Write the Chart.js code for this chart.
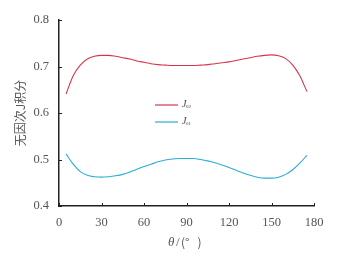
<!DOCTYPE html>
<html>
<head>
<meta charset="utf-8">
<script src="https://cdn.jsdelivr.net/npm/chart.js@4"></script>
<style>
  html, body { margin: 0; padding: 0; background: #fff; }
  #wrap { width: 343px; height: 260px; }
</style>
</head>
<body>
<div id="wrap"><canvas id="myChart" width="343" height="260"></canvas></div>
<script>
// theta in degrees
const angles = [5, 10, 15, 20, 25, 30, 35, 40, 45, 50, 55, 60, 65, 70, 75, 80, 85, 90,
    95, 100, 105, 110, 115, 120, 125, 130, 135, 140, 145, 150, 155, 160, 165, 170, 175];

// J02 (red)
const j02 = [0.641, 0.680, 0.703, 0.716, 0.722, 0.724, 0.724, 0.722, 0.719, 0.716, 0.712, 0.709,
    0.706, 0.704, 0.703, 0.702, 0.702, 0.702, 0.702, 0.703, 0.704, 0.706, 0.708, 0.710,
    0.713, 0.716, 0.719, 0.722, 0.724, 0.725, 0.723, 0.717, 0.703, 0.680, 0.646];

// J01 (blue)
const j01 = [0.512, 0.490, 0.474, 0.466, 0.463, 0.462, 0.463, 0.465, 0.468, 0.473, 0.479, 0.485,
    0.490, 0.495, 0.499, 0.501, 0.502, 0.502, 0.502, 0.500, 0.497, 0.493, 0.488, 0.483,
    0.477, 0.471, 0.466, 0.462, 0.460, 0.460, 0.462, 0.468, 0.478, 0.492, 0.509];

const xTicks = [0, 30, 60, 90, 120, 150, 180];
const yTicks = [0.4, 0.5, 0.6, 0.7, 0.8];

const seriesNames = ['02', '01'];
const seriesColors = ['#d8354b', '#2aaed6'];

const serif = '"Liberation Serif", "DejaVu Serif", serif';
const cjk = '"Noto Sans CJK SC", sans-serif';

// ticks pointing into the plot, legend and axis titles
const decorations = {
    id: 'decorations',
    afterDraw(chart) {
        const ctx = chart.ctx;
        const x = chart.scales.x;
        const y = chart.scales.y;
        const area = chart.chartArea;

        ctx.save();
        ctx.strokeStyle = '#222';
        ctx.lineWidth = 1;
        xTicks.forEach(v => {
            const px = Math.round(x.getPixelForValue(v)) + 0.5;
            ctx.beginPath();
            ctx.moveTo(px, area.bottom);
            ctx.lineTo(px, area.bottom - 3);
            ctx.stroke();
        });
        yTicks.forEach(v => {
            const py = Math.round(y.getPixelForValue(v)) + 0.5;
            ctx.beginPath();
            ctx.moveTo(area.left, py);
            ctx.lineTo(area.left + 3, py);
            ctx.stroke();
        });

        // legend
        const lx = 155, ly = [105, 122];
        for (let i = 0; i < seriesNames.length; i++) {
            ctx.strokeStyle = seriesColors[i];
            ctx.lineWidth = 1.2;
            ctx.beginPath();
            ctx.moveTo(lx, ly[i]);
            ctx.lineTo(lx + 23, ly[i]);
            ctx.stroke();
            ctx.fillStyle = '#444';
            ctx.textBaseline = 'middle';
            ctx.textAlign = 'left';
            ctx.font = 'italic 10px ' + serif;
            ctx.fillText('J', lx + 27, ly[i] - 1);
            ctx.font = '5px ' + serif;
            ctx.fillText(seriesNames[i], lx + 31, ly[i] + 2);
        }

        // x title
        ctx.fillStyle = '#555';
        ctx.textBaseline = 'middle';
        ctx.textAlign = 'left';
        ctx.font = 'italic 13px ' + serif;
        ctx.fillText('θ', 168, 243);
        ctx.font = '13px ' + serif;
        ctx.fillText('/', 176, 243);
        ctx.font = '12px ' + cjk;
        ctx.fillText('(°   )', 181, 242);

        // y title
        ctx.translate(20, 113);
        ctx.rotate(-Math.PI / 2);
        ctx.textAlign = 'center';
        ctx.font = '12px ' + cjk;
        ctx.fillText('无因次J积分', 0, 0);
        ctx.restore();
    }
};

new Chart(document.getElementById('myChart').getContext('2d'), {
    type: 'line',
    data: {
        labels: angles,
        datasets: [
            { label: 'J02', data: angles.map((a, i) => ({ x: a, y: j02[i] })), borderColor: seriesColors[0] },
            { label: 'J01', data: angles.map((a, i) => ({ x: a, y: j01[i] })), borderColor: seriesColors[1] }
        ].map(d => Object.assign(d, { borderWidth: 1.1, pointRadius: 0, fill: false, cubicInterpolationMode: 'monotone' }))
    },
    options: {
        responsive: false,
        animation: false,
        layout: { padding: { top: 20, right: 29, left: 0, bottom: 0 } },
        plugins: { legend: { display: false }, tooltip: { enabled: false } },
        scales: {
            x: {
                type: 'linear',
                min: 0,
                max: 180,
                afterBuildTicks: s => { s.ticks = xTicks.map(v => ({ value: v })); },
                afterFit: s => { s.height = 54; },
                grid: { display: false, drawTicks: false },
                border: { color: '#222', width: 1.5 },
                ticks: { padding: 9, color: '#555', font: { family: serif, size: 12.5 }, maxRotation: 0 }
            },
            y: {
                min: 0.4,
                max: 0.8,
                afterBuildTicks: s => { s.ticks = yTicks.map(v => ({ value: v })); },
                afterFit: s => { s.width = 59; },
                grid: { display: false, drawTicks: false },
                border: { color: '#222', width: 1.5 },
                ticks: {
                    padding: 10,
                    color: '#555',
                    font: { family: serif, size: 12.5 },
                    callback: v => v.toFixed(1)
                }
            }
        }
    },
    plugins: [decorations]
});
</script>
</body>
</html>
